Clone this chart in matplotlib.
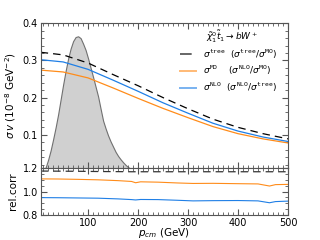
import matplotlib
matplotlib.use("Agg")
import matplotlib.pyplot as plt
from matplotlib.ticker import MultipleLocator

# cross sections (10^-8 GeV^-2) vs p_cm
p_cm = [5, 50, 100, 150, 200, 250, 300, 350, 400, 450, 500]
sig_tree = [0.322, 0.315, 0.293, 0.262, 0.232, 0.200, 0.170, 0.142, 0.120, 0.103, 0.089]
sig_mo = [0.274, 0.269, 0.253, 0.226, 0.198, 0.171, 0.146, 0.122, 0.103, 0.089, 0.078]
sig_nlo = [0.302, 0.296, 0.276, 0.247, 0.217, 0.186, 0.158, 0.131, 0.110, 0.094, 0.082]

# thermal momentum distribution (arbitrary units)
p_dist = [10, 15, 20, 25, 30, 35, 40, 45, 50, 55, 60, 65, 70, 75, 80, 85, 90, 95,
          100, 105, 110, 115, 120, 125, 130, 135, 140, 145, 150, 155, 160, 165,
          170, 175, 180, 185, 190, 195, 200]
dist = [0.0, 0.012, 0.033, 0.058, 0.088, 0.12, 0.155, 0.195, 0.235, 0.272, 0.305,
        0.332, 0.352, 0.363, 0.365, 0.360, 0.345, 0.328, 0.305, 0.28, 0.255, 0.229,
        0.203, 0.17, 0.138, 0.117, 0.098, 0.082, 0.068, 0.054, 0.043, 0.034, 0.026,
        0.019, 0.013, 0.009, 0.005, 0.002, 0.0]

# relative corrections
p_rel = [5, 40, 80, 120, 160, 187, 195, 205, 240, 280, 310, 350, 400, 440, 463, 475, 500]
rel_tree = [1.176, 1.175, 1.174, 1.172, 1.171, 1.170, 1.170, 1.170, 1.170, 1.170,
            1.170, 1.170, 1.170, 1.170, 1.170, 1.170, 1.170]
rel_mo = [1.109, 1.108, 1.105, 1.101, 1.094, 1.087, 1.076, 1.084, 1.081, 1.074,
          1.070, 1.071, 1.068, 1.066, 1.048, 1.060, 1.062]
rel_nlo = [0.949, 0.948, 0.946, 0.944, 0.938, 0.932, 0.929, 0.933, 0.932, 0.926,
           0.921, 0.923, 0.924, 0.921, 0.905, 0.915, 0.919]

orange = "#ff8c1a"
blue = "#1f7fe6"

fig = plt.figure(figsize=(3.2, 2.4), dpi=100)
ax = fig.add_axes([0.127, 0.299, 0.773, 0.604])
ax2 = fig.add_axes([0.127, 0.104, 0.773, 0.195], sharex=ax)

ax.fill_between(p_dist, dist, 0, color="#d0d0d0", edgecolor="#707070", lw=0.8)
ax.plot(p_cm, sig_tree, color="black", ls=(0, (6, 4)), lw=0.9,
        label=r"$\sigma^{\mathtt{tree}}$  $(\sigma^{\mathtt{tree}}/\sigma^{\mathtt{MO}})$")
ax.plot(p_cm, sig_mo, color=orange, lw=0.9,
        label=r"$\sigma^{\mathtt{MO}}$    $(\sigma^{\mathtt{NLO}}/\sigma^{\mathtt{MO}})$")
ax.plot(p_cm, sig_nlo, color=blue, lw=0.9,
        label=r"$\sigma^{\mathtt{NLO}}$  $(\sigma^{\mathtt{NLO}}/\sigma^{\mathtt{tree}})$")

leg = ax.legend(loc="upper left", bbox_to_anchor=(0.565, 0.835), frameon=False,
                fontsize=6.5, handlelength=1.7, handletextpad=0.8,
                borderaxespad=0, borderpad=0, labelspacing=0.35)
for h in leg.get_lines():
    h.set_alpha(0.6)
    h.set_linewidth(1.4)
ax.text(0.669, 0.905, r"$\tilde{\chi}_1^0\tilde{t}_1\rightarrow bW^+$",
        transform=ax.transAxes, fontsize=6.5, va="center", ha="left")

ax.set_xlim(5, 500)
ax.set_ylim(0.01, 0.4)
ax.set_yticks([0.1, 0.2, 0.3, 0.4])
ax.yaxis.set_minor_locator(MultipleLocator(0.02))
ax.set_ylabel(r"$\sigma\,v$ ($10^{-8}$ GeV$^{-2}$)", fontsize=7.5, labelpad=3)
plt.setp(ax.get_xticklabels(), visible=False)

ax2.plot(p_rel, rel_tree, color="#333333", ls=(0, (6, 4)), lw=0.9)
ax2.plot(p_rel, rel_mo, color=orange, lw=0.8)
ax2.plot(p_rel, rel_nlo, color=blue, lw=0.8)
ax2.set_ylim(0.8, 1.2)
ax2.set_yticks([0.8, 1.0, 1.2])
ax2.yaxis.set_minor_locator(MultipleLocator(0.05))
ax2.set_xticks([100, 200, 300, 400, 500])
ax2.xaxis.set_minor_locator(MultipleLocator(10))
ax2.set_xlabel(r"$p_{cm}$ (GeV)", fontsize=7.5, labelpad=-1)
ax2.set_ylabel("rel.corr", fontsize=7.5, labelpad=3)

for a in (ax, ax2):
    a.tick_params(which="both", direction="in", top=True, right=True,
                  labelsize=7, color="#555555", pad=2)
    a.tick_params(which="major", length=4)
    a.tick_params(which="minor", length=2)
    for s in a.spines.values():
        s.set_color("#555555")

fig.savefig("out.png", dpi=100)
